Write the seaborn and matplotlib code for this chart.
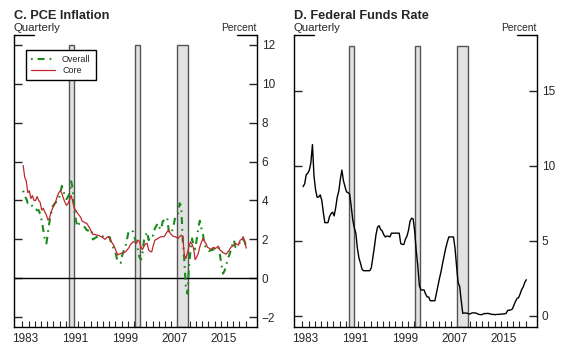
import numpy as np
import pandas as pd
import matplotlib
matplotlib.use('Agg')
import matplotlib.pyplot as plt
import seaborn as sns

# ============ DATA (quarterly, 1983Q1 - 2019Q1) ============
core_pce = [5.8, 5.2, 5.0, 4.4,
            4.5, 4.1, 4.25, 4.0,
            4.0, 4.2, 4.0, 3.9,
            3.5, 3.6, 3.4, 3.25,
            3.0, 3.1, 3.4, 3.6,
            3.75, 3.95, 4.2, 4.4,
            4.5, 4.35, 4.1, 3.9,
            3.75, 3.85, 4.05, 4.25,
            3.95, 3.6, 3.5, 3.35,
            3.25, 3.15, 2.95, 2.9,
            2.85, 2.83, 2.7, 2.57,
            2.4, 2.25, 2.27, 2.22,
            2.22, 2.2, 2.15, 2.12,
            2.05, 2.0, 2.1, 2.14,
            2.0, 1.88, 1.75, 1.6,
            1.4, 1.2, 1.25, 1.28,
            1.3, 1.32, 1.36, 1.45,
            1.55, 1.7, 1.8, 1.88,
            1.85, 1.8, 1.96, 1.9,
            1.62, 1.48, 1.65, 1.77,
            1.8, 1.45, 1.38, 1.36,
            1.7, 1.96, 2.0, 2.05,
            2.1, 2.14, 2.14, 2.14,
            2.27, 2.4, 2.48, 2.3,
            2.22, 2.15, 2.14, 2.1,
            2.05, 2.15, 2.22, 2.14,
            1.19, 1.02, 1.3, 1.62,
            1.88, 1.75, 1.53, 0.96,
            1.1, 1.28, 1.62, 1.85,
            2.05, 1.9, 1.79, 1.59,
            1.55, 1.48, 1.55, 1.59,
            1.53, 1.6, 1.65, 1.45,
            1.4, 1.31, 1.28, 1.24,
            1.35, 1.45, 1.59, 1.65,
            1.7, 1.79, 1.75, 1.7,
            1.96, 2.0, 2.14, 1.88,
            1.55]

overall_pce = [4.5, 4.2, 4.1, 3.86,
               3.9, 3.8, 3.7, 3.55,
               3.55, 3.5, 3.5, 3.3,
               2.96, 2.48, 2.0, 1.79,
               2.34, 2.91, 3.3, 3.69,
               3.8, 3.9, 3.94, 4.1,
               4.38, 4.75, 4.5, 4.2,
               4.07, 4.2, 4.38, 4.98,
               4.6, 3.6, 3.0, 2.65,
               2.8, 2.8, 2.75, 2.7,
               2.6, 2.48, 2.45, 2.39,
               2.48, 2.0, 2.05, 2.1,
               2.15, 2.2, 2.2, 2.15,
               2.2, 2.2, 2.2, 2.14,
               2.1, 1.7, 1.6, 1.45,
               1.19, 0.84, 0.82, 0.8,
               1.2, 1.45, 1.6, 2.0,
               2.39, 2.48, 2.45, 2.39,
               2.1, 1.8, 1.5, 1.1,
               0.96, 1.3, 1.96, 2.2,
               2.39, 1.96, 2.2, 2.2,
               2.2, 2.57, 2.7, 2.83,
               2.6, 2.5, 2.91, 3.0,
               3.13, 3.08, 2.4, 2.3,
               2.4, 2.7, 3.08, 3.3,
               3.34, 3.86, 3.7, 1.96,
               0.93, -0.45, -0.79, 0.58,
               1.45, 2.05, 1.7, 1.5,
               2.0, 2.57, 2.96, 2.57,
               2.3, 1.7, 1.6, 1.55,
               1.4, 1.45, 1.45, 1.5,
               1.6, 1.65, 1.6, 1.2,
               0.67, 0.24, 0.4, 0.67,
               1.0, 1.19, 1.45, 1.7,
               1.96, 1.6, 1.65, 1.7,
               1.9, 2.05, 2.0, 1.88,
               1.55]

fed_funds = [8.6, 8.8, 9.4, 9.5,
             9.7, 10.2, 11.4, 9.3,
             8.4, 7.9, 7.9, 8.05,
             7.7, 6.9, 6.2, 6.2,
             6.2, 6.6, 6.8, 6.9,
             6.65, 7.2, 7.9, 8.3,
             9.1, 9.7, 9.0, 8.6,
             8.25, 8.2, 8.1, 7.3,
             6.4, 5.85, 5.5, 4.5,
             3.85, 3.5, 3.1, 3.0,
             3.0, 3.0, 3.0, 3.0,
             3.2, 3.9, 4.6, 5.4,
             5.9, 6.0, 5.75, 5.65,
             5.4, 5.25, 5.3, 5.3,
             5.25, 5.5, 5.5, 5.5,
             5.5, 5.5, 5.5, 4.8,
             4.75, 4.75, 5.1, 5.3,
             5.7, 6.3, 6.5, 6.45,
             5.6, 4.3, 3.3, 2.0,
             1.72, 1.72, 1.72, 1.45,
             1.25, 1.25, 1.0, 1.0,
             1.0, 1.0, 1.5, 2.0,
             2.5, 2.95, 3.5, 4.0,
             4.5, 4.9, 5.25, 5.25,
             5.25, 5.25, 4.5, 3.3,
             2.2, 1.95, 1.0, 0.16,
             0.18, 0.18, 0.16, 0.12,
             0.13, 0.19, 0.19, 0.19,
             0.16, 0.1, 0.08, 0.07,
             0.1, 0.15, 0.14, 0.16,
             0.14, 0.12, 0.08, 0.09,
             0.07, 0.09, 0.09, 0.1,
             0.11, 0.12, 0.13, 0.16,
             0.36, 0.37, 0.39, 0.45,
             0.7, 0.95, 1.15, 1.2,
             1.45, 1.74, 1.92, 2.22,
             2.4]

recessions = [(1990.5, 1991.25), (2001.25, 2002.0), (2008.0, 2009.67)]
year_labels = [1983, 1991, 1999, 2007, 2015]
left_yticks = [-2, 0, 2, 4, 6, 8, 10, 12]
right_yticks = [0, 5, 10, 15]

# quarter midpoints as decimal years
quarters = pd.period_range('1983Q1', '2019Q1', freq='Q')
qdates = quarters.year + (quarters.quarter - 0.5) / 4.0

df = pd.DataFrame({'date': qdates, 'core': core_pce,
                   'overall': overall_pce, 'ffr': fed_funds})

# ============ STYLE ============
sns.set_style('ticks')
plt.rcParams['font.family'] = ['Liberation Sans', 'DejaVu Sans']
plt.rcParams['lines.scale_dashes'] = False

fig = plt.figure(figsize=(5.61, 3.54), dpi=100)
ax1 = fig.add_axes([14 / 561, 27 / 354, 243 / 561, 292 / 354])
ax2 = fig.add_axes([294 / 561, 27 / 354, 243 / 561, 292 / 354])


def style_panel(ax, ylim, yticks, bar_top, title):
    ax.set_xlim(1981.65, 2020.85)
    ax.set_ylim(*ylim)
    # recession shading
    frac = (bar_top - ylim[0]) / (ylim[1] - ylim[0])
    for start, end in recessions:
        ax.axvspan(start, end, ymin=0, ymax=frac, facecolor='#e2e2e2',
                   edgecolor='#555555', linewidth=1.0, zorder=1)
    # spines: open top with short stubs in the corners
    ax.spines['top'].set_visible(False)
    for side in ['left', 'right', 'bottom']:
        ax.spines[side].set_visible(True)
        ax.spines[side].set_linewidth(1.0)
        ax.spines[side].set_color('black')
    ax.plot([0, 0.082], [1, 1], color='black', lw=1.0,
            transform=ax.transAxes, clip_on=False)
    ax.plot([0.918, 1], [1, 1], color='black', lw=1.0,
            transform=ax.transAxes, clip_on=False)

    ax.set_yticks(yticks)
    ax.set_yticklabels([f'{t}'.replace('-', '\u2212') for t in yticks])
    ax.tick_params(axis='y', which='major', left=True, right=True,
                   labelleft=False, labelright=True, direction='in',
                   length=6, width=1.0, labelsize=8.5, pad=3.5)

    ax.set_xticks([y + 0.5 for y in year_labels])
    ax.set_xticklabels([str(y) for y in year_labels])
    ax.set_xticks(np.arange(1983, 2020), minor=True)
    ax.tick_params(axis='x', which='major', length=0, labelsize=8.5, pad=4)
    ax.tick_params(axis='x', which='minor', direction='in', length=4,
                   width=0.8, bottom=True)
    ax.set_xlabel('')
    ax.set_ylabel('')

    ax.text(0, 1.055, title, transform=ax.transAxes, fontsize=9.2,
            fontweight='bold', ha='left', va='baseline')
    ax.text(0, 1.014, 'Quarterly', transform=ax.transAxes, fontsize=8.2,
            ha='left', va='baseline')
    ax.text(1, 1.014, 'Percent', transform=ax.transAxes, fontsize=7.4,
            ha='right', va='baseline')


# ============ PANEL C ============
ax1.axhline(0, color='black', lw=1.0, zorder=2)
sns.lineplot(data=df, x='date', y='overall', ax=ax1, color='#1a8a1a',
             lw=1.5, linestyle=(0, (1.2, 3.6, 5.0, 3.6)), label='Overall',
             zorder=3)
sns.lineplot(data=df, x='date', y='core', ax=ax1, color='#c1272d',
             lw=0.9, label='Core', zorder=4)
style_panel(ax1, (-2.5, 12.5), left_yticks, 12, 'C. PCE Inflation')
leg = ax1.legend(loc='upper left', bbox_to_anchor=(0.049, 0.949),
                 borderaxespad=0, fontsize=6.5, frameon=True, fancybox=False,
                 edgecolor='black', framealpha=1, handlelength=2.6,
                 labelspacing=0.15, borderpad=0.6, handletextpad=0.8)
leg.get_frame().set_linewidth(1.0)
leg.set_zorder(10)

# ============ PANEL D ============
sns.lineplot(data=df, x='date', y='ffr', ax=ax2, color='black', lw=1.0,
             zorder=3)
style_panel(ax2, (-0.75, 18.7), right_yticks, 18, 'D. Federal Funds Rate')

fig.savefig('out.png', dpi=100)
